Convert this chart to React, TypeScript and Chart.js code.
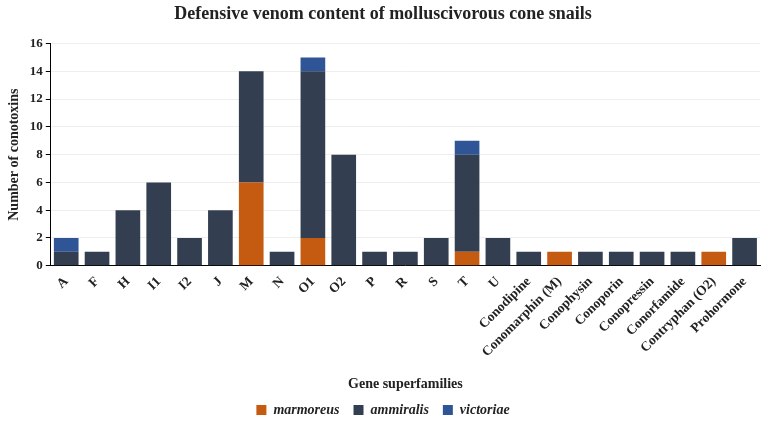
import React, { useEffect, useRef } from "react";
import { Chart, registerables } from "chart.js";

Chart.register(...registerables);

const categories = ["A", "F", "H", "I1", "I2", "J", "M", "N", "O1", "O2", "P", "R", "S", "T", "U", "Conodipine", "Conomarphin (M)", "Conophysin", "Conoporin", "Conopressin", "Conorfamide", "Contryphan (O2)", "Prohormone"];
const marmoreus = [0, 0, 0, 0, 0, 0, 6, 0, 2, 0, 0, 0, 0, 1, 0, 0, 1, 0, 0, 0, 0, 1, 0];
const ammiralis = [1, 1, 4, 6, 2, 4, 8, 1, 12, 8, 1, 1, 2, 7, 2, 1, 0, 1, 1, 1, 1, 0, 2];
const victoriae = [1, 0, 0, 0, 0, 0, 0, 0, 1, 0, 0, 0, 0, 1, 0, 0, 0, 0, 0, 0, 0, 0, 0];
const yTicks = [0, 2, 4, 6, 8, 10, 12, 14, 16];

const FONT = "'Liberation Serif', 'DejaVu Serif', serif";

const legendTrim = {
  id: "legendTrim",
  afterInit(chart: any) {
    const lg = chart.legend;
    if (!lg || lg._trimmed) return;
    const orig = lg.fit.bind(lg);
    lg.fit = function () {
      orig();
      this.height = Math.max(0, this.height - 11);
    };
    lg._trimmed = true;
  },
  afterLayout(chart: any) {
    const lg = chart.legend;
    if (!lg) return;
    lg.top -= 6;
    lg.bottom -= 6;
    if (lg.legendHitBoxes) lg.legendHitBoxes.forEach((b: any) => { b.top -= 6; });
  },
};

export default function App() {
  const ref = useRef<HTMLCanvasElement | null>(null);
  useEffect(() => {
    document.body.style.margin = "0";
    const ctx = ref.current!.getContext("2d")!;
    const chart = new Chart(ctx, {
      type: "bar",
      data: {
        labels: categories,
        datasets: [
          { label: "marmoreus", data: marmoreus, backgroundColor: "#C55A11", borderWidth: 0 },
          { label: "ammiralis", data: ammiralis, backgroundColor: "#333F50", borderWidth: 0 },
          { label: "victoriae", data: victoriae, backgroundColor: "#2F5597", borderWidth: 0 },
        ],
      },
      plugins: [legendTrim],
      options: {
        animation: false,
        responsive: true,
        maintainAspectRatio: false,
        layout: { padding: { left: 6, right: 8, top: 0, bottom: 0 } },
        datasets: { bar: { categoryPercentage: 1.0, barPercentage: 0.8 } },
        plugins: {
          title: {
            display: true,
            text: "Defensive venom content of molluscivorous cone snails",
            color: "#222",
            font: { family: FONT, size: 18, weight: "bold" },
            padding: { top: 4, bottom: 18 },
          },
          legend: {
            position: "bottom",
            labels: {
              boxWidth: 10,
              boxHeight: 10,
              color: "#222",
              padding: 14,
              font: { family: FONT, size: 14, weight: "bold", style: "italic" },
            },
          },
          tooltip: { enabled: false },
        },
        scales: {
          x: {
            stacked: true,
            grid: { display: false, drawTicks: true, tickLength: 5, tickColor: "#000" },
            border: { display: true, color: "#000", width: 1 },
            ticks: {
              color: "#222",
              maxRotation: 45,
              minRotation: 45,
              autoSkip: false,
              font: { family: FONT, size: 13.5, weight: "bold" },
              padding: 3,
            },
            title: {
              display: true,
              text: "Gene superfamilies",
              color: "#222",
              font: { family: FONT, size: 14, weight: "bold" },
              padding: { top: 13, bottom: 2 },
            },
          },
          y: {
            stacked: true,
            min: 0,
            max: 16,
            afterBuildTicks: (axis: any) => {
              axis.ticks = yTicks.map((v) => ({ value: v }));
            },
            grid: { color: "#eeeeee", tickLength: 5, tickColor: "#000", drawTicks: true },
            border: { display: true, color: "#000", width: 1 },
            ticks: {
              color: "#222",
              font: { family: FONT, size: 13, weight: "bold" },
              padding: 3,
            },
            title: {
              display: true,
              text: "Number of conotoxins",
              color: "#222",
              font: { family: FONT, size: 14, weight: "bold" },
              padding: { top: 0, bottom: 4 },
            },
          },
        },
      },
    });
    return () => chart.destroy();
  }, []);
  return (
    <div style={{ width: 768, height: 422, position: "relative" }}>
      <canvas ref={ref} />
    </div>
  );
}
